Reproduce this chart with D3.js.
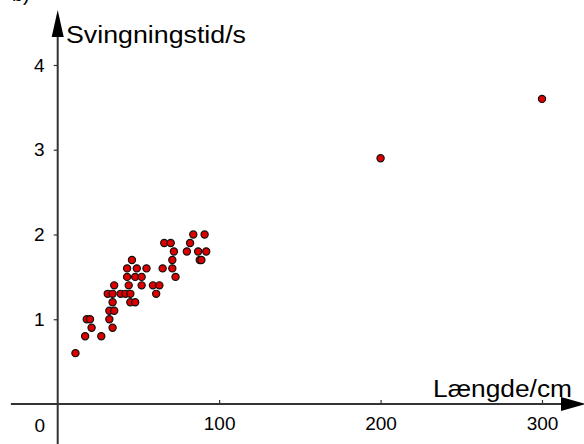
<html>
<head>
<script src="https://d3js.org/d3.v7.min.js"></script>
<style>
  body { margin: 0; background: #fff; }
  svg { display: block; }
  text { font-family: "Liberation Sans", Arial, sans-serif; fill: #000; }
</style>
</head>
<body>
<svg width="584" height="444"></svg>
<script>
// pendul data: length (cm) and period (s)
var lengths = [11, 17, 27, 21, 34, 18, 20, 32, 32, 35, 34, 45, 48, 31, 34, 39, 42, 45, 61,
  35, 44, 52, 59, 63, 43, 48, 52, 73, 43, 49, 55, 65, 71, 46, 71, 88, 89,
  72, 80, 87, 92, 66, 70, 82, 84, 91, 200, 300];
var periods = [0.6, 0.8, 0.8, 0.9, 0.9, 1.0, 1.0, 1.0, 1.1, 1.1, 1.2, 1.2, 1.2, 1.3, 1.3, 1.3, 1.3, 1.3, 1.3,
  1.4, 1.4, 1.4, 1.4, 1.4, 1.5, 1.5, 1.5, 1.5, 1.6, 1.6, 1.6, 1.6, 1.6, 1.7, 1.7, 1.7, 1.7,
  1.8, 1.8, 1.8, 1.8, 1.9, 1.9, 1.9, 2.0, 2.0, 2.9, 3.6];
var xTicks = [100, 200, 300];
var yTicks = [1, 2, 3, 4];
var xTitle = "Længde/cm";
var yTitle = "Svingningstid/s";

var svg = d3.select("svg");
var W = 584, H = 444;

var x = d3.scaleLinear().domain([0, 300]).range([57.7, 542]);
var y = d3.scaleLinear().domain([0, 4]).range([404, 65]);

var axisColor = "#333";

// clipped label from the page above (only its bottom edge shows)
svg.append("text").attr("x", 12).attr("y", 1).style("font-size", "20px").text("b)");

// axis lines
svg.append("line")
  .attr("x1", x(-29)).attr("x2", W - 12)
  .attr("y1", y(0)).attr("y2", y(0))
  .attr("stroke", axisColor).attr("stroke-width", 2);
svg.append("line")
  .attr("x1", x(0)).attr("x2", x(0))
  .attr("y1", H).attr("y2", 30)
  .attr("stroke", axisColor).attr("stroke-width", 2);

// arrow heads
svg.append("path")
  .attr("d", "M" + (W - 23) + "," + (y(0) - 7) + "L" + (W + 2) + "," + y(0) + "L" + (W - 23) + "," + (y(0) + 7) + "Z")
  .attr("fill", "#000");
svg.append("path")
  .attr("d", "M" + (x(0) - 6) + ",37L" + x(0) + ",10L" + (x(0) + 6) + ",37Z")
  .attr("fill", "#000");

// y ticks
var yaxis = svg.append("g")
  .attr("transform", "translate(" + x(0) + ",0)")
  .call(d3.axisLeft(y).tickValues(yTicks).tickSize(4).tickPadding(9).tickFormat(d3.format("d")));
yaxis.select(".domain").remove();
yaxis.selectAll("line").attr("stroke", axisColor).attr("stroke-width", 1.2);
yaxis.selectAll("text")
  .style("font-size", "19px").style("font-family", "Liberation Sans, Arial, sans-serif")
  .attr("fill", "#000");

// x ticks (pointing up), labels below
var xaxis = svg.append("g")
  .attr("transform", "translate(0," + y(0) + ")")
  .call(d3.axisBottom(x).tickValues(xTicks).tickSizeInner(-4).tickSizeOuter(0).tickPadding(13).tickFormat(d3.format("d")));
xaxis.select(".domain").remove();
xaxis.selectAll("line").attr("stroke", axisColor).attr("stroke-width", 1.2);
xaxis.selectAll("text")
  .style("font-size", "19px").style("font-family", "Liberation Sans, Arial, sans-serif")
  .attr("fill", "#000");

// origin label
svg.append("text")
  .attr("x", x(0) - 18).attr("y", y(0) + 28)
  .attr("text-anchor", "middle")
  .style("font-size", "19px")
  .text("0");

// axis titles
svg.append("text")
  .attr("x", 66).attr("y", 43)
  .attr("textLength", 180).attr("lengthAdjust", "spacingAndGlyphs")
  .style("font-size", "23px")
  .text(yTitle);
svg.append("text")
  .attr("x", 433).attr("y", 397)
  .attr("textLength", 139).attr("lengthAdjust", "spacingAndGlyphs")
  .style("font-size", "23px")
  .text(xTitle);

// points
svg.append("g").selectAll("circle")
  .data(d3.range(lengths.length)).enter().append("circle")
  .attr("cx", function(i) { return x(lengths[i]); })
  .attr("cy", function(i) { return y(periods[i]); })
  .attr("r", 3.6)
  .attr("fill", "#dd0000")
  .attr("stroke", "#111")
  .attr("stroke-width", 1.2);
</script>
</body>
</html>
